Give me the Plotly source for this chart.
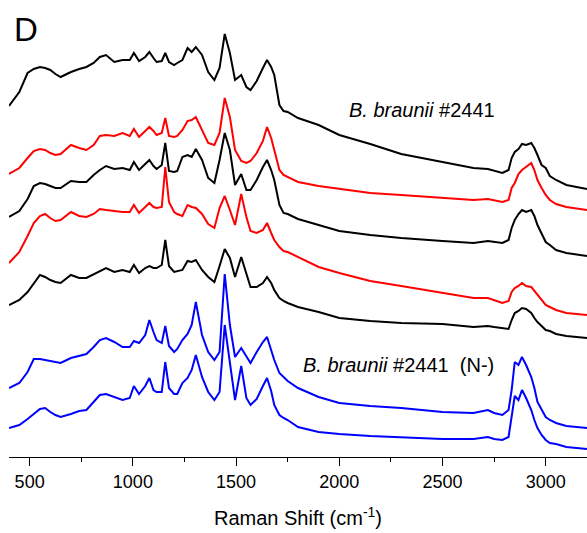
import plotly.graph_objects as go

# Raman shift grid (cm^-1)
raman_shift = [400, 450, 490, 520, 550, 575, 600, 625, 650, 700,
               740, 775, 810, 840, 870, 910, 950, 985, 1005, 1030,
               1060, 1080, 1100, 1115, 1140, 1157, 1175, 1200, 1215, 1240,
               1265, 1285, 1305, 1335, 1365, 1395, 1420, 1445, 1470, 1495,
               1525, 1550, 1570, 1600, 1630, 1650, 1670, 1685, 1710, 1730,
               1750, 1800, 1900, 2000, 2150, 2300, 2500, 2650, 2720, 2750,
               2790, 2820, 2835, 2850, 2868, 2885, 2905, 2930, 2945, 2960,
               2980, 3000, 3020, 3050, 3100, 3200]

# Stacked spectra (arbitrary units, offset for display), top to bottom
spec_black_1 = [351, 365, 384, 388, 390, 389, 387, 383, 380, 385,
                388, 390, 394, 400, 402, 395, 397, 397, 404, 396,
                400, 405, 399, 395, 396, 404, 395, 392, 394, 397,
                409, 405, 410, 402, 385, 377, 389, 423, 404, 377,
                382, 370, 367, 376, 389, 397, 390, 382, 352, 346,
                345, 339, 332, 322, 313, 303, 295, 289, 288, 286,
                284, 287, 299, 305, 308, 313, 312, 314, 309, 302,
                292, 289, 281, 277, 272, 268]
spec_red_1 = [283, 289, 299, 306, 308, 307, 304, 302, 303, 312,
              309, 307, 312, 321, 322, 321, 324, 321, 328, 320,
              326, 330, 326, 322, 324, 339, 321, 320, 321, 327,
              336, 337, 340, 327, 314, 312, 324, 359, 340, 307,
              296, 294, 296, 304, 316, 330, 319, 307, 287, 282,
              280, 275, 271, 268, 264, 262, 259, 257, 258, 257,
              255, 257, 269, 274, 283, 287, 290, 294, 287, 277,
              269, 262, 257, 253, 250, 247]
spec_black_2 = [240, 246, 258, 271, 274, 273, 271, 269, 269, 276,
                275, 275, 282, 287, 291, 288, 289, 287, 295, 287,
                293, 297, 291, 288, 292, 314, 286, 285, 286, 300,
                302, 300, 308, 297, 279, 274, 297, 324, 307, 272,
                283, 267, 267, 277, 290, 297, 287, 277, 252, 244,
                243, 238, 232, 226, 222, 219, 216, 214, 216, 215,
                214, 217, 229, 237, 243, 247, 245, 247, 241, 232,
                224, 215, 212, 207, 204, 201]
spec_red_2 = [194, 205, 221, 234, 241, 243, 239, 236, 237, 245,
              241, 240, 243, 248, 247, 246, 245, 245, 252, 244,
              250, 254, 250, 249, 250, 290, 255, 245, 243, 241,
              252, 250, 249, 243, 233, 229, 249, 261, 247, 232,
              263, 240, 226, 224, 227, 234, 224, 217, 210, 206,
              205, 200, 190, 184, 176, 171, 164, 159, 159, 157,
              154, 156, 165, 169, 171, 174, 171, 170, 166, 162,
              157, 152, 150, 147, 144, 142]
spec_black_3 = [152, 157, 165, 174, 182, 180, 177, 175, 174, 182,
                179, 179, 183, 186, 189, 185, 187, 185, 192, 184,
                189, 191, 189, 189, 192, 217, 191, 185, 186, 187,
                196, 195, 197, 187, 180, 175, 191, 208, 199, 180,
                200, 184, 170, 170, 174, 180, 174, 167, 159, 156,
                154, 150, 145, 139, 136, 134, 133, 130, 131, 130,
                129, 128, 137, 144, 146, 149, 148, 144, 139, 135,
                131, 127, 126, 123, 121, 119]
spec_blue_1 = [69, 74, 85, 98, 98, 97, 96, 95, 94, 99,
               101, 103, 110, 117, 119, 115, 110, 110, 116, 114,
               122, 137, 125, 117, 114, 131, 111, 105, 108, 117,
               123, 132, 155, 122, 105, 97, 105, 183, 132, 100,
               109, 101, 94, 105, 115, 120, 107, 97, 84, 80,
               76, 69, 60, 54, 51, 49, 45, 44, 47, 44,
               42, 47, 67, 95, 92, 100, 92, 80, 69, 55,
               47, 40, 37, 34, 31, 29]
spec_blue_2 = [29, 32, 38, 43, 48, 49, 45, 42, 40, 43,
               46, 47, 55, 62, 63, 60, 57, 59, 71, 63,
               71, 79, 67, 65, 65, 95, 69, 63, 63, 74,
               79, 87, 102, 80, 65, 57, 65, 132, 97, 57,
               91, 59, 52, 58, 71, 79, 66, 52, 42, 39,
               37, 30, 25, 23, 21, 20, 18, 18, 20, 18,
               17, 20, 42, 61, 57, 67, 59, 47, 37, 29,
               22, 17, 14, 13, 10, 8]

series = [
    (spec_black_1, "#000000"),
    (spec_red_1, "#ff0000"),
    (spec_black_2, "#000000"),
    (spec_red_2, "#ff0000"),
    (spec_black_3, "#000000"),
    (spec_blue_1, "#0000ff"),
    (spec_blue_2, "#0000ff"),
]

x_ticks = [500, 1000, 1500, 2000, 2500, 3000]

fig = go.Figure()
for vals, col in series:
    fig.add_trace(go.Scatter(x=raman_shift, y=vals, mode="lines",
                             line=dict(color=col, width=2),
                             showlegend=False, hoverinfo="skip"))

font_family = "Liberation Sans, Arial, sans-serif"

fig.update_layout(
    width=587, height=533,
    margin=dict(l=9, r=0, t=0, b=76),
    paper_bgcolor="white", plot_bgcolor="white",
    font=dict(family=font_family, color="black"),
    xaxis=dict(
        range=[400, 3200], showgrid=False, zeroline=False,
        showline=True, linecolor="black", linewidth=1.3,
        ticks="outside", ticklen=8, tickwidth=1.3, tickcolor="black",
        tickvals=x_ticks, tickfont=dict(size=18, family=font_family),
        minor=dict(ticks="outside", ticklen=4, tickwidth=1.3,
                   tickcolor="black", dtick=250, tick0=250),
        title=dict(text="Raman Shift (cm<sup>-1</sup>)",
                   font=dict(size=20, family=font_family), standoff=20),
    ),
    yaxis=dict(range=[0, 457], visible=False, showgrid=False, zeroline=False),
    annotations=[
        dict(text="D", x=416, y=428, xref="x", yref="y", xanchor="left",
             yanchor="middle", showarrow=False,
             font=dict(size=33, family=font_family)),
        dict(text="<i>B. braunii</i> #2441", x=2035, y=347, xref="x", yref="y",
             xanchor="left", yanchor="middle", showarrow=False,
             font=dict(size=20, family=font_family)),
        dict(text="<i>B. braunii</i> #2441  (N-)", x=1815, y=92, xref="x", yref="y",
             xanchor="left", yanchor="middle", showarrow=False,
             font=dict(size=20, family=font_family)),
    ],
)

fig.write_html("out.html",
               config={"displayModeBar": False},
               post_script="document.body.style.margin='0';document.body.style.overflow='hidden';")
